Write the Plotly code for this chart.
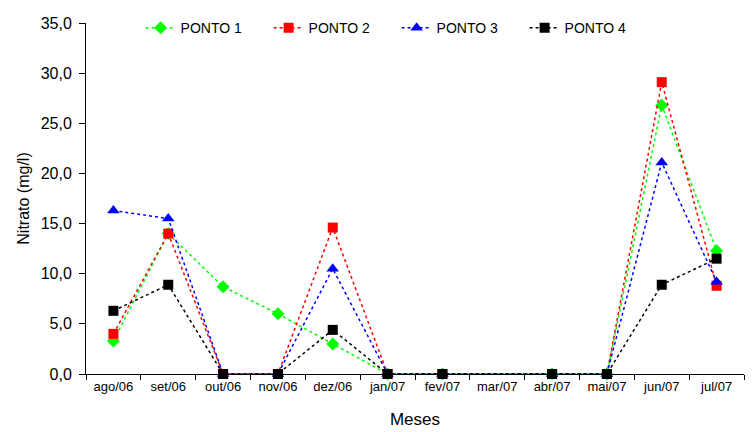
import plotly.graph_objects as go

meses = ["ago/06", "set/06", "out/06", "nov/06", "dez/06", "jan/07",
         "fev/07", "mar/07", "abr/07", "mai/07", "jun/07", "jul/07"]

ponto1 = [3.3, 14.0, 8.7, 6.0, 3.0, 0.0, 0.0, None, 0.0, 0.0, 26.8, 12.3]
ponto2 = [4.0, 14.0, 0.0, 0.0, 14.6, 0.0, 0.0, None, 0.0, 0.0, 29.1, 8.8]
ponto3 = [16.3, 15.5, 0.0, 0.0, 10.5, 0.0, 0.0, None, 0.0, 0.0, 21.1, 9.2]
ponto4 = [6.3, 8.9, 0.0, 0.0, 4.4, 0.0, 0.0, None, 0.0, 0.0, 8.9, 11.5]

series = [
    ("PONTO 1", ponto1, "#00ff00", "diamond", 10),
    ("PONTO 2", ponto2, "#ff0000", "square", 10),
    ("PONTO 3", ponto3, "#0000ff", "triangle-up", 11),
    ("PONTO 4", ponto4, "#000000", "square", 10),
]

fig = go.Figure()
for name, vals, color, symbol, size in series:
    fig.add_trace(go.Scatter(
        x=meses, y=vals, name=name, mode="lines+markers",
        connectgaps=True, cliponaxis=False,
        line=dict(color=color, width=1.5, dash="3px,3px"),
        marker=dict(symbol=symbol, size=size, color=color,
                    line=dict(width=0)),
    ))

fig.update_layout(
    width=756, height=432,
    margin=dict(l=86, r=12, t=16, b=58),
    paper_bgcolor="white", plot_bgcolor="white",
    separators=",.",
    font=dict(family="Liberation Sans, Arial, sans-serif", color="#000000"),
    showlegend=True,
    legend=dict(orientation="h", x=0.083, y=0.985, xanchor="left",
                yanchor="middle", font=dict(size=14),
                entrywidth=83, entrywidthmode="pixels",
                bgcolor="rgba(0,0,0,0)"),
    xaxis=dict(
        type="category", range=[-0.5, 11.5], automargin=False,
        showline=True, linecolor="black", linewidth=1,
        ticks="outside", ticklen=5, tickcolor="black",
        tickson="boundaries", showgrid=False, zeroline=False,
        tickfont=dict(size=13),
        title=dict(text="Meses", font=dict(size=17), standoff=20),
    ),
    yaxis=dict(
        range=[0, 35], dtick=5, tickformat=".1f", automargin=False,
        showline=True, linecolor="black", linewidth=1,
        ticks="outside", ticklen=6, tickcolor="black",
        ticklabelstandoff=4,
        showgrid=False, zeroline=False,
        tickfont=dict(size=16),
        title=dict(text="Nitrato (mg/l)", font=dict(size=16), standoff=7),
    ),
)

fig.write_html("out.html")
